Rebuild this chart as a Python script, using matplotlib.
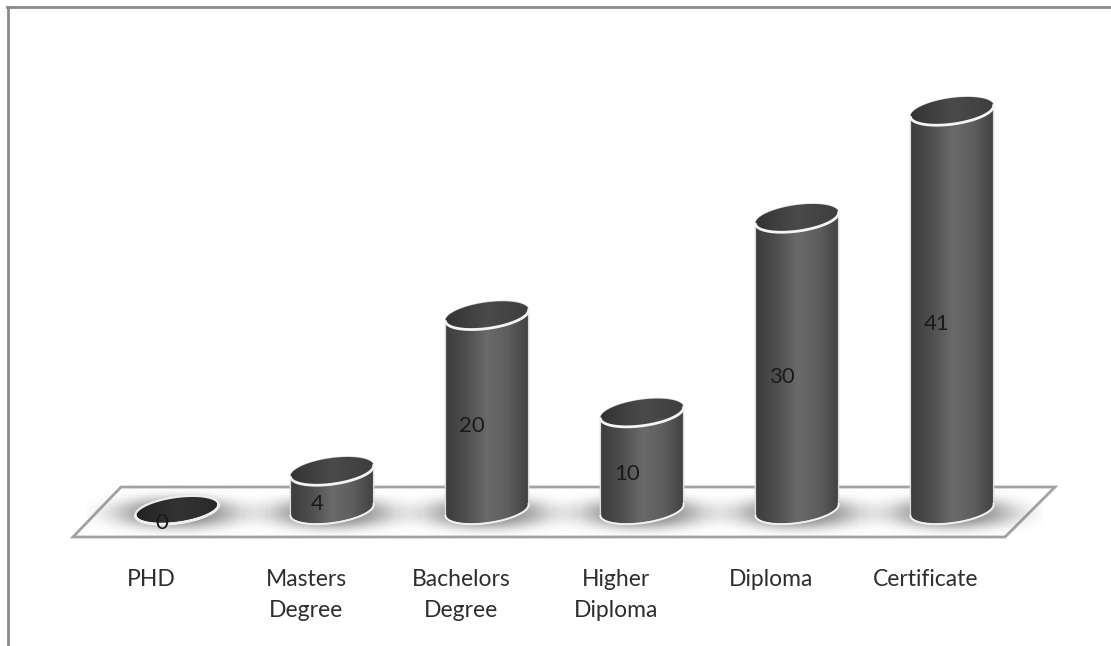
import numpy as np
import matplotlib.pyplot as plt
from matplotlib.colors import LinearSegmentedColormap
from matplotlib.patches import Polygon
from matplotlib.lines import Line2D

categories = ["PHD", "Masters\nDegree", "Bachelors\nDegree",
              "Higher\nDiploma", "Diploma", "Certificate"]
values = [0, 4, 20, 10, 30, 41]

W, H = 1111, 646
fig = plt.figure(figsize=(W / 100, H / 100), dpi=100)
ax = fig.add_axes([0, 0, 1, 1])

# pixel scale of the axes: 155 px per category, 9.73 px per count
SX, SY = 155.0, 9.73
X0, BASE = 177, 510
ax.set_xlim(-X0 / SX, (W - X0) / SX)
ax.set_ylim(-(H - BASE) / SY, BASE / SY)
ax.axis("off")

TILT = np.deg2rad(8)
A, B = 42, 13          # ellipse half-axes in px


def ell(xc, yc, t):
    ex = A * np.cos(t) * np.cos(TILT) - B * np.sin(t) * np.sin(TILT)
    ey = A * np.cos(t) * np.sin(TILT) + B * np.sin(t) * np.cos(TILT)
    return xc + ex / SX, yc + ey / SY


body_cmap = LinearSegmentedColormap.from_list(
    "body", ["#3c3c3c", "#4e4e4e", "#6a6a6a", "#5e5e5e", "#404040"])
top_cmap = LinearSegmentedColormap.from_list(
    "top", ["#333333", "#4a4a4a", "#3e3e3e"])
flat_cmap = LinearSegmentedColormap.from_list(
    "flat", ["#222222", "#333333", "#2a2a2a"])

# ---- 1. floor ----------------------------------------------------------
fl_x = np.array([121, 1055, 1005, 73])
fl_y = np.array([487, 487, 537, 537])
floor = Polygon(np.column_stack([(fl_x - X0) / SX, (BASE - fl_y) / SY]),
                closed=True, facecolor="white", edgecolor="#a3a3a3",
                lw=2, zorder=1)
ax.add_patch(floor)

# ---- 2. cylinders ------------------------------------------------------
gx = np.linspace(-90, 90, 160)
gy = np.linspace(-30, 30, 80)
GX, GY = np.meshgrid(gx, gy)
r = np.sqrt((GX / 62) ** 2 + ((GY + 3) / 16) ** 2)
shadow = np.zeros(GX.shape + (4,))
shadow[..., :3] = 0.40
shadow[..., 3] = 0.75 * np.exp(-r ** 3)

t_lo = np.linspace(np.pi, 2 * np.pi, 80)
t_hi = np.linspace(0, np.pi, 80)
t_all = np.linspace(0, 2 * np.pi, 160)

for i, v in enumerate(values):
    # soft shadow around base
    ax.imshow(shadow, extent=(i + gx[0] / SX, i + gx[-1] / SX,
                              gy[0] / SY, gy[-1] / SY),
              origin="lower", aspect="auto", zorder=2,
              interpolation="bilinear")

    bx, by = ell(i, 0, t_lo)
    tx, ty = ell(i, v, t_hi)
    body = Polygon(np.column_stack([np.r_[bx, tx], np.r_[by, ty]]),
                   closed=True, facecolor="none", edgecolor="#dcdcdc",
                   lw=1.0, zorder=4)
    ax.add_patch(body)
    grad = np.linspace(0, 1, 256)[None, :]
    im = ax.imshow(grad, cmap=body_cmap, aspect="auto",
                   extent=(i - A / SX, i + A / SX, -20 / SY, v + 20 / SY),
                   zorder=3)
    im.set_clip_path(body)

    # top face
    ex, ey = ell(i, v, t_all)
    face = Polygon(np.column_stack([ex, ey]), closed=True,
                   facecolor="none", edgecolor="none", zorder=5)
    ax.add_patch(face)
    im2 = ax.imshow(grad, cmap=flat_cmap if v == 0 else top_cmap,
                    aspect="auto",
                    extent=(i - A / SX, i + A / SX, v - 20 / SY, v + 20 / SY),
                    zorder=5)
    im2.set_clip_path(face)
    fx, fy = ell(i, v, t_lo)
    ax.plot(fx, fy, color="#f4f4f4", lw=2, zorder=6, solid_capstyle="round")
    if v == 0:
        ax.plot(ex, ey, color="#eeeeee", lw=1.6, zorder=6)
    ax.plot(bx, by, color="#f0f0f0", lw=1.4, zorder=6)

    # value label
    ax.text(i - 15 / SX, v / 2 - 13 / SY, str(v), ha="center", va="center",
            fontsize=16, color="#1a1a1a", family="Lato", zorder=10)

    # category label
    ax.text(i - 26 / SX, (BASE - 569) / SY, categories[i], ha="center",
            va="top", fontsize=16.5, color="#2e2e2e", family="Lato",
            linespacing=1.6, zorder=10)

# ---- 3. frame ----------------------------------------------------------
fig.add_artist(Line2D([7 / W, 1], [1 - 7 / H, 1 - 7 / H],
                      color="#8a8a8a", lw=2))
fig.add_artist(Line2D([8 / W, 8 / W], [0, 1 - 7 / H],
                      color="#8a8a8a", lw=2))

fig.savefig("out.png", dpi=100)
